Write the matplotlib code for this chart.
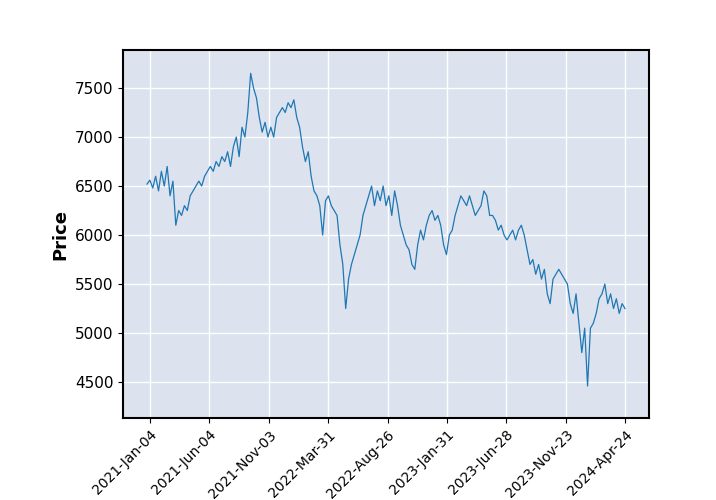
import matplotlib
matplotlib.use("Agg")
import matplotlib.pyplot as plt
import numpy as np

prices = [6520,6560,6480,6600,6450,6650,6500,6700,6400,6550,6100,6250,6200,6300,6250,6400,6450,6500,
6550,6500,6600,6650,6700,6650,6750,6700,6800,6750,6850,6700,6900,7000,6800,7100,7000,7250,7650,7500,7400,
7200,7050,7150,7000,7100,7000,7200,7250,7300,7250,7350,7300,7380,7200,7100,6900,6750,6850,6600,6450,
6400,6300,6000,6350,6400,6300,6250,6200,5900,5700,5250,5550,5700,5800,5900,6000,6200,6300,6400,6500,
6300,6450,6350,6500,6300,6400,6200,6450,6300,6100,6000,5900,5850,5700,5650,5900,6050,5950,6100,6200,
6250,6150,6200,6100,5900,5800,6000,6050,6200,6300,6400,6350,6300,6400,6300,6200,6250,6300,6450,6400,
6200,6200,6150,6050,6100,6000,5950,6000,6050,5950,6050,6100,6000,5850,5700,5750,5600,5700,5550,5650,
5400,5300,5550,5600,5650,5600,5550,5500,5300,5200,5400,5100,4800,5050,4460,5050,5100,5200,5350,5400,
5500,5300,5400,5250,5350,5200,5300,5250]
tick_labels = ["2021-Jan-04","2021-Jun-04","2021-Nov-03","2022-Mar-31","2022-Aug-26",
               "2023-Jan-31","2023-Jun-28","2023-Nov-23","2024-Apr-24"]

n = len(prices)
idx = np.arange(n)
px_per = 478 / (n - 1)
step = 59.4 / px_per
ticks = [3 / px_per + k * step for k in range(len(tick_labels))]

fig = plt.figure(figsize=(7.16, 5), dpi=100)
ax = fig.add_axes([123/716, 1-418/500, (649-123)/716, (418-50)/500])
ax.set_facecolor("#dce3ee")
ax.plot(idx, prices, color="#1f77b4", lw=0.9)
ax.set_xlim(-24/px_per, (649-147)/px_per)
ax.set_ylim(4133, 7888)
ax.set_yticks([4500,5000,5500,6000,6500,7000,7500])
ax.set_xticks(ticks)
ax.set_xticklabels(tick_labels, rotation=45, ha="right", rotation_mode="anchor", fontsize=10)
ax.tick_params(axis="y", labelsize=11)
ax.grid(True, color="white", lw=1)
ax.set_axisbelow(True)
for s in ax.spines.values():
    s.set_color("black"); s.set_linewidth(1.5)
ax.set_ylabel("Price", fontsize=13, fontweight="bold")
fig.savefig("out.png", dpi=100)
